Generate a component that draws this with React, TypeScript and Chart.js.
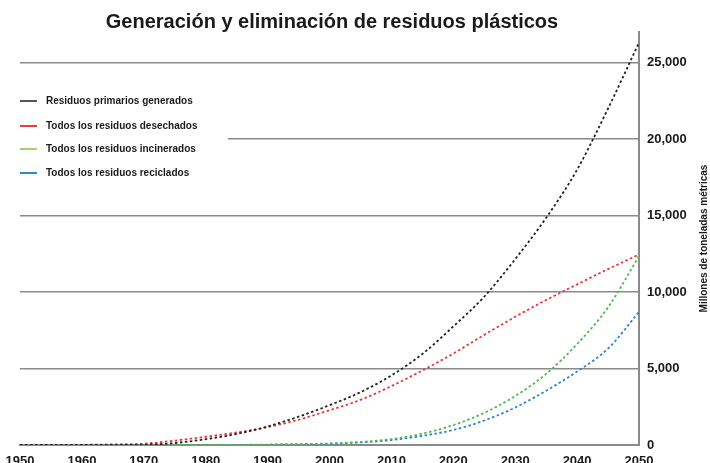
import React, { useEffect, useRef } from "react";
import { Chart, registerables } from "chart.js";

Chart.register(...registerables);

const chartTitle = "Generación y eliminación de residuos plásticos";
const yAxisTitle = "Millones de toneladas métricas";

const years = [1950, 1955, 1960, 1965, 1970, 1975, 1980, 1985, 1990, 1995, 2000, 2005, 2010, 2015, 2020, 2025, 2030, 2035, 2040, 2045, 2050];
const generated = [0, 0, 0, 0, 20, 130, 380, 720, 1210, 1850, 2600, 3450, 4550, 5950, 7750, 9700, 12150, 14850, 18000, 22000, 26300];
const discarded = [0, 0, 10, 40, 85, 290, 540, 820, 1170, 1650, 2270, 2950, 3850, 4870, 5980, 7200, 8380, 9480, 10500, 11500, 12450];
const incinerated = [0, 0, 0, 0, 0, 0, 0, 10, 30, 60, 100, 200, 380, 740, 1300, 2100, 3200, 4650, 6600, 9000, 12350];
const recycled = [0, 0, 0, 0, 0, 0, 0, 0, 10, 40, 80, 170, 320, 600, 980, 1600, 2450, 3550, 4800, 6300, 8700];

const xTickValues = [1950, 1960, 1970, 1980, 1990, 2000, 2010, 2020, 2030, 2040, 2050];
const yTickValues = [0, 5000, 10000, 15000, 20000, 25000];

const seriesNames = [
  "Residuos primarios generados",
  "Todos los residuos desechados",
  "Todos los residuos incinerados",
  "Todos los residuos reciclados",
];
const lineColors = ["#222222", "#e8383d", "#4db84d", "#2b82cc"];
const legendColors = ["#555555", "#ee3b3f", "#a2d46a", "#2f88d6"];
const seriesValues = [generated, discarded, incinerated, recycled];

const FONT = "'Liberation Sans', Arial, Helvetica, sans-serif";

const overlayPlugin = {
  id: "overlay",
  beforeDatasetsDraw(chart: any) {
    const ctx = chart.ctx;
    const area = chart.chartArea;
    ctx.save();
    ctx.fillStyle = "#ffffff";
    ctx.fillRect(area.left, 84, 208, 100);
    const ys = [101, 126, 149, 173];
    ctx.font = `bold 10px ${FONT}`;
    ctx.textBaseline = "middle";
    ctx.textAlign = "left";
    seriesNames.forEach((name, i) => {
      ctx.strokeStyle = legendColors[i];
      ctx.lineWidth = 2;
      ctx.beginPath();
      ctx.moveTo(area.left, ys[i]);
      ctx.lineTo(area.left + 17, ys[i]);
      ctx.stroke();
      ctx.fillStyle = "#1a1a1a";
      ctx.fillText(name, area.left + 26, ys[i]);
    });
    ctx.restore();
  },
  afterDraw(chart: any) {
    const ctx = chart.ctx;
    const area = chart.chartArea;
    ctx.save();
    ctx.font = `bold 20px ${FONT}`;
    ctx.fillStyle = "#1a1a1a";
    ctx.textAlign = "center";
    ctx.textBaseline = "alphabetic";
    ctx.fillText(chartTitle, 332, 28);
    ctx.restore();

    ctx.save();
    ctx.translate(704, (area.top + area.bottom) / 2);
    ctx.rotate(-Math.PI / 2);
    ctx.font = `bold 10px ${FONT}`;
    ctx.fillStyle = "#1a1a1a";
    ctx.textAlign = "center";
    ctx.textBaseline = "middle";
    ctx.fillText(yAxisTitle, 0, 0);
    ctx.restore();
  },
};

export default function App() {
  const canvasRef = useRef<HTMLCanvasElement | null>(null);

  useEffect(() => {
    if (!canvasRef.current) return;
    const chart = new Chart(canvasRef.current, {
      type: "line",
      data: {
        datasets: seriesNames.map((name, i) => ({
          label: name,
          data: years.map((yr, j) => ({ x: yr, y: seriesValues[i][j] })),
          borderColor: lineColors[i],
          backgroundColor: lineColors[i],
          borderWidth: 1.8,
          borderDash: [2.5, 2.5],
          pointRadius: 0,
          fill: false,
          cubicInterpolationMode: "monotone" as const,
        })),
      },
      options: {
        animation: false,
        responsive: false,
        maintainAspectRatio: false,
        layout: { padding: { top: 32, left: 20, right: 0, bottom: 0 } },
        plugins: {
          legend: { display: false },
          title: { display: false },
          tooltip: { enabled: false },
        },
        scales: {
          x: {
            type: "linear",
            min: 1950,
            max: 2050,
            afterBuildTicks: (scale: any) => {
              scale.ticks = xTickValues.map((v) => ({ value: v }));
            },
            afterFit: (scale: any) => {
              scale.height = 18;
              scale.paddingLeft = 0;
              scale.paddingRight = 0;
            },
            grid: { display: false, drawTicks: false },
            border: { display: true, color: "#8a8a8a", width: 2 },
            ticks: {
              padding: 9,
              color: "#1a1a1a",
              font: { family: FONT, size: 13, weight: "bold" },
              maxRotation: 0,
              callback: (v: any) => String(v),
            },
          },
          y: {
            type: "linear",
            position: "right",
            min: 0,
            max: 27000,
            afterBuildTicks: (scale: any) => {
              scale.ticks = yTickValues.map((v) => ({ value: v }));
            },
            afterFit: (scale: any) => {
              scale.width = 71;
            },
            grid: { display: true, color: "#8a8a8a", lineWidth: 1.6, drawTicks: false },
            border: { display: true, color: "#8a8a8a", width: 2 },
            ticks: {
              padding: 8,
              color: "#1a1a1a",
              font: { family: FONT, size: 13, weight: "bold" },
              callback: (v: any) => Number(v).toLocaleString("en-US"),
            },
            title: { display: false },
          },
        },
      },
      plugins: [overlayPlugin],
    });
    return () => chart.destroy();
  }, []);

  return (
    <div style={{ position: "absolute", left: 0, top: 0, width: 710, height: 463, background: "#fff" }}>
      <canvas ref={canvasRef} width={710} height={463} style={{ width: 710, height: 463, display: "block" }} />
    </div>
  );
}
